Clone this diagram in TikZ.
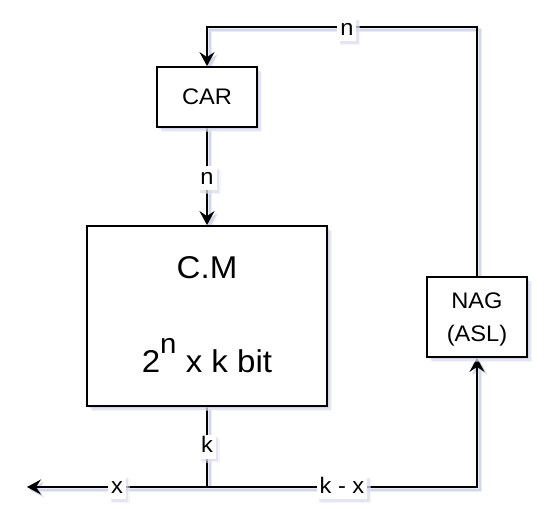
\documentclass[tikz,border=0pt]{standalone}
\usepackage{fontspec}
\setmainfont{Liberation Sans}[FakeStretch=1.05]
\usetikzlibrary{arrows.meta,shadows,backgrounds}
\definecolor{shadowb}{RGB}{194,198,220}
\definecolor{shadowc}{RGB}{212,215,233}
\definecolor{shadowd}{RGB}{233,235,245}
\tikzset{
  box/.style={draw, fill=white, line width=1.8pt, inner sep=0pt,
    drop shadow={shadow xshift=5pt, shadow yshift=-5pt, fill=shadowd},
    drop shadow={shadow xshift=3.5pt, shadow yshift=-3.5pt, fill=shadowc},
    drop shadow={shadow xshift=2pt, shadow yshift=-2pt, fill=shadowb}},
  smallfont/.style={font=\fontsize{22.5}{33.3}\selectfont},
  lbl/.style={fill=white, font=\fontsize{22.5}{26}\selectfont, text height=16pt, text depth=4pt,
    inner xsep=3pt, inner ysep=2pt,
    drop shadow={shadow xshift=4pt, shadow yshift=-4pt, fill=shadowd},
    drop shadow={shadow xshift=2.5pt, shadow yshift=-2.5pt, fill=shadowc}},
  conn/.style={line width=1.8pt,
    preaction={draw=shadowd, line width=4.5pt, transform canvas={shift={(3pt,-3pt)}}},
    preaction={draw=shadowc, line width=2pt, transform canvas={shift={(2.5pt,-2.5pt)}}}},
  tip/.style={-{Stealth[length=14pt,width=15pt,inset=5pt]}}
}
\begin{document}
\begin{tikzpicture}[x=1pt,y=-1pt]
\useasboundingbox (0,0) rectangle (552,530);
\node[box, smallfont, minimum width=100pt, minimum height=60pt] (car) at (207,97) {CAR};
\node[box, minimum width=240pt, minimum height=180pt, align=center,
  font=\fontsize{31.5}{93.4}\selectfont] (cm) at (207,316)
  {C.M\\2\raisebox{18.4pt}{\fontsize{28}{28}\selectfont n} x k bit\rule[-3pt]{0pt}{3pt}};
\node[box, smallfont, align=center, minimum width=100pt, minimum height=80pt] (nag) at (477,317)
  {NAG\\\raisebox{0pt}[\height][0pt]{(ASL)}};
\coordinate (tr) at (477,27);
\coordinate (tl) at (207,27);
\coordinate (j) at (207,487);
\coordinate (outl) at (27,487);
\coordinate (br) at (477,487);
\begin{pgfonlayer}{background}
\draw[conn, tip] (nag.north) -- (tr) -- node[lbl, pos=0.482, yshift=-2pt] {n} (tl) -- (car.north);
\draw[conn, tip] (car.south) -- node[lbl, pos=0.52] {n} (cm.north);
\draw[conn] (cm.south) -- node[lbl] {k} (j);
\draw[conn, tip] (j) -- node[lbl] {x} (outl);
\draw[conn, tip] (j) -- node[lbl] {k - x} (br) -- (nag.south);
\end{pgfonlayer}
\end{tikzpicture}
\end{document}
